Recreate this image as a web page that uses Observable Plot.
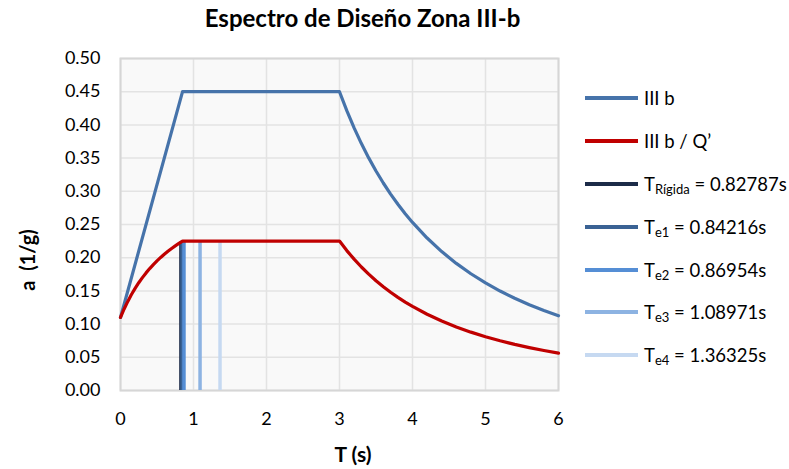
<!DOCTYPE html>
<html>
<head>
<meta charset="utf-8">
<script src="https://cdn.jsdelivr.net/npm/d3@7"></script>
<script src="https://cdn.jsdelivr.net/npm/@observablehq/plot@0.6"></script>
<style>
  html, body { margin: 0; padding: 0; background: #fff; }
  #wrap { position: relative; width: 789px; height: 469px; font-family: Lato, "Open Sans", sans-serif; color: #000; }
  #title { position: absolute; left: 0; top: 3px; width: 725px; text-align: center; font-weight: bold; font-size: 24px; }
  #chart { position: absolute; left: 0; top: 40px; }
  .axlabel { position: absolute; font-weight: bold; font-size: 20px; white-space: pre; }
  .leg { position: absolute; left: 585px; display: flex; align-items: center; font-size: 18.5px; white-space: nowrap; }
  .sw { width: 53px; height: 4px; margin-right: 6px; }
  .sub { font-size: 13px; position: relative; top: 3px; }
</style>
</head>
<body>
<div id="wrap">
  <div id="title">Espectro de Diseño Zona III-b</div>
  <div id="chart"></div>
  <div class="axlabel" style="left:27px; top:260px; transform: translate(-50%,-50%) rotate(-90deg);">a  (1/g)</div>
  <div class="axlabel" style="left:353px; top:453px; transform: translate(-50%,-50%); font-size:21px;">T (s)</div>
  <div id="legend"></div>
</div>
<script>
// Elastic design spectrum, zone III-b
const tBase = [0, 0.85, 3.0, 3.1, 3.2, 3.3, 3.4, 3.5, 3.6, 3.7, 3.8, 3.9, 4.0, 4.2, 4.4, 4.6, 4.8, 5.0, 5.2, 5.4, 5.6, 5.8, 6.0];
const aBase = [0.11, 0.45, 0.45, 0.4214, 0.3955, 0.3719, 0.3503, 0.3306, 0.3125, 0.2958, 0.2805, 0.2663, 0.2531, 0.2296, 0.2092, 0.1914, 0.1758, 0.1620, 0.1498, 0.1389, 0.1291, 0.1204, 0.1125];

// Reduced spectrum a / Q'
const tRed = [0, 0.05, 0.1, 0.15, 0.2, 0.25, 0.3, 0.35, 0.4, 0.45, 0.5, 0.55, 0.6, 0.65, 0.7, 0.75, 0.8, 0.85, 3.0, 3.1, 3.2, 3.3, 3.4, 3.5, 3.6, 3.7, 3.8, 3.9, 4.0, 4.2, 4.4, 4.6, 4.8, 5.0, 5.2, 5.4, 5.6, 5.8, 6.0];
const aRed = [0.11, 0.1228, 0.1342, 0.1445, 0.1538, 0.1623, 0.1700, 0.1771, 0.1836, 0.1896, 0.1952, 0.2004, 0.2052, 0.2097, 0.2139, 0.2178, 0.2215, 0.225, 0.225, 0.2107, 0.1978, 0.1860, 0.1752, 0.1653, 0.1563, 0.1479, 0.1402, 0.1331, 0.1266, 0.1148, 0.1046, 0.0957, 0.0879, 0.0810, 0.0749, 0.0694, 0.0646, 0.0602, 0.0563];

// Structure periods marked on the reduced spectrum
const periodNames = ["Rígida", "e1", "e2", "e3", "e4"];
const periods = [0.82787, 0.84216, 0.86954, 1.08971, 1.36325];
const periodOrdinates = [0.2235, 0.2245, 0.225, 0.225, 0.225];
const periodColors = ["#1c2b48", "#3a6294", "#558ed5", "#8db3e2", "#c6d9f1"];

const xTicks = [0, 1, 2, 3, 4, 5, 6];
const yTicks = [0, 0.05, 0.10, 0.15, 0.20, 0.25, 0.30, 0.35, 0.40, 0.45, 0.50];

const colorBase = "#4673aa";
const colorRed = "#c00000";

const base = tBase.map((t, i) => ({t, a: aBase[i]}));
const red = tRed.map((t, i) => ({t, a: aRed[i]}));
const rules = periods.map((t, i) => ({t, a: periodOrdinates[i], c: periodColors[i]}));

const chart = Plot.plot({
  width: 789,
  height: 429,
  marginLeft: 120,
  marginRight: 231,
  marginTop: 18,
  marginBottom: 79,
  style: {fontFamily: "Lato, 'Open Sans', sans-serif", fontSize: "18px", color: "#000", background: "transparent"},
  x: {domain: [0, 6]},
  y: {domain: [0, 0.5]},
  marks: [
    Plot.frame({fill: "#f9f9f9", stroke: null}),
    Plot.gridY(yTicks, {stroke: "#e3e3e3", strokeOpacity: 1, strokeWidth: 1.5}),
    Plot.gridX(xTicks, {stroke: "#e3e3e3", strokeOpacity: 1, strokeWidth: 1.5}),
    Plot.frame({stroke: "#d6d6d6", strokeWidth: 2}),
    Plot.axisY(yTicks, {tickSize: 0, tickPadding: 20, tickFormat: d3.format(".2f"), label: null}),
    Plot.axisX(xTicks, {tickSize: 0, tickPadding: 22, tickFormat: d3.format("d"), label: null}),
    Plot.line(base, {x: "t", y: "a", stroke: colorBase, strokeWidth: 3.2}),
    Plot.ruleX(rules, {x: "t", y1: 0, y2: "a", stroke: "c", strokeWidth: 3.5}),
    Plot.line(red, {x: "t", y: "a", stroke: colorRed, strokeWidth: 3.2})
  ]
});
document.getElementById("chart").appendChild(chart);

// Legend
const legend = document.getElementById("legend");
const entries = [
  {html: "III b", color: colorBase},
  {html: "III b / Q’", color: colorRed},
  ...periods.map((p, i) => ({
    html: `T<span class="sub">${periodNames[i]}</span> = ${p.toFixed(5)}s`,
    color: periodColors[i]
  }))
];
const rowCenters = [98, 141, 184, 227, 270, 312, 355];
entries.forEach((e, i) => {
  const row = document.createElement("div");
  row.className = "leg";
  row.style.top = (rowCenters[i] - 12) + "px";
  row.style.height = "24px";
  row.innerHTML = `<div class="sw" style="background:${e.color}"></div><div>${e.html}</div>`;
  legend.appendChild(row);
});
</script>
</body>
</html>
